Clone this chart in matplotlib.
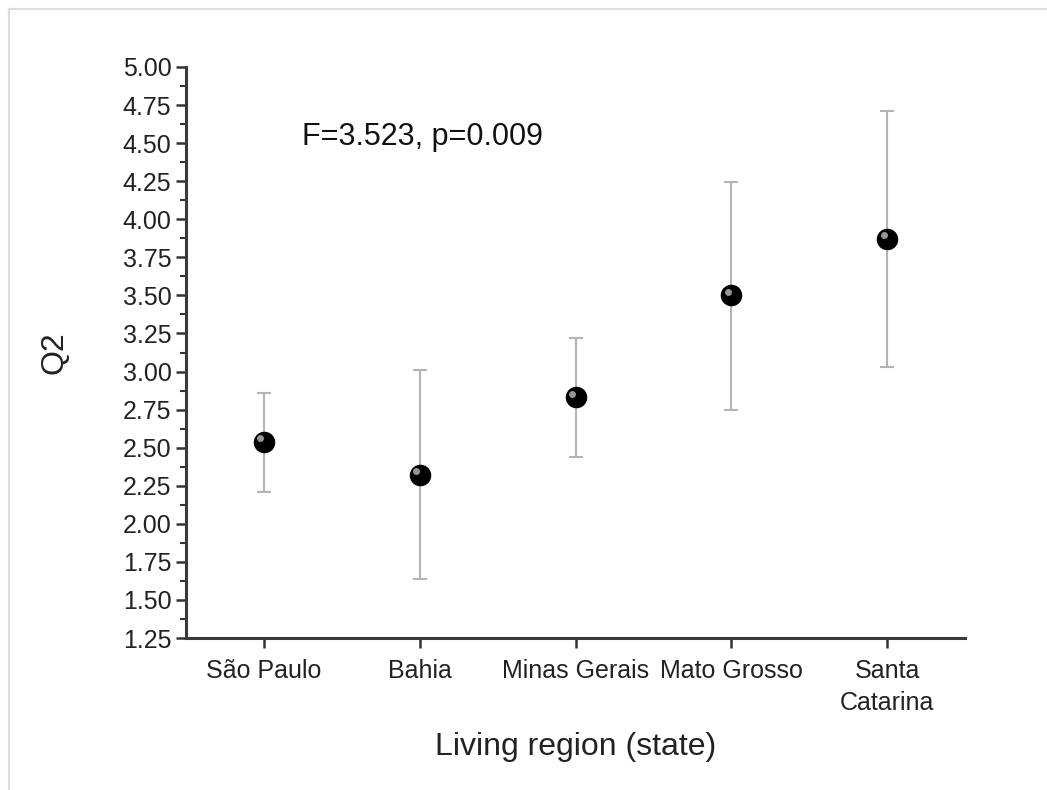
import matplotlib
matplotlib.use("Agg")
import matplotlib.pyplot as plt
from matplotlib.ticker import MultipleLocator, FormatStrFormatter
from matplotlib.lines import Line2D

plt.rcParams['font.family'] = ['Liberation Sans', 'DejaVu Sans']

# data
regions = ["São Paulo", "Bahia", "Minas Gerais", "Mato Grosso", "Santa\nCatarina"]
means = [2.54, 2.32, 2.83, 3.50, 3.87]
upper = [2.86, 3.01, 3.22, 4.245, 4.71]
lower = [2.21, 1.64, 2.44, 2.75, 3.03]

err_lo = [m - l for m, l in zip(means, lower)]
err_hi = [u - m for m, u in zip(means, upper)]
xs = list(range(len(regions)))

fig = plt.figure(figsize=(10.47, 7.9), dpi=100)
ax = fig.add_axes([186 / 1047, 1 - 638 / 790, (965 - 186) / 1047, (638 - 67) / 790])

# light grey frame round the figure
fig.add_artist(Line2D([9 / 1047, 9 / 1047], [0, 1 - 9 / 790], color='#dddddd', lw=1.5, transform=fig.transFigure))
fig.add_artist(Line2D([9 / 1047, 1], [1 - 9 / 790, 1 - 9 / 790], color='#dddddd', lw=1.5, transform=fig.transFigure))

ax.errorbar(xs, means, yerr=[err_lo, err_hi], fmt='none', ecolor='#b4b4b4',
            elinewidth=1.5, capsize=5, capthick=1.5, zorder=2)
# ball-like markers: black disc plus a small highlight
ax.plot(xs, means, 'o', ms=14.5, color='black', mec='black', zorder=3)
ax.plot([x - 0.022 for x in xs], [m + 0.025 for m in means], 'o', ms=5,
        color='#c8c8c8', mec='none', alpha=0.75, zorder=4)

ax.set_xlim(-0.5, 4.5)
ax.set_ylim(1.25, 5.0)
ax.set_xticks(xs)
ax.set_xticklabels(regions, linespacing=1.45)
ax.yaxis.set_major_locator(MultipleLocator(0.25))
ax.yaxis.set_minor_locator(MultipleLocator(0.125))
ax.yaxis.set_major_formatter(FormatStrFormatter('%.2f'))

for side in ['top', 'right']:
    ax.spines[side].set_visible(False)
for side in ['left', 'bottom']:
    ax.spines[side].set_linewidth(2.2)
    ax.spines[side].set_color('#3a3a3a')

ax.tick_params(axis='both', which='major', direction='out', length=7, width=1.8,
               color='#333333', labelsize=18, labelcolor='#222222')
ax.tick_params(axis='y', which='minor', direction='out', length=4, width=1.5, color='#333333')
ax.tick_params(axis='x', pad=8)

ax.set_xlabel('Living region (state)', fontsize=23, labelpad=12, color='#222222')
ax.set_ylabel('Q2', fontsize=23, labelpad=38, color='#222222')

ax.text(0.245, 4.54, 'F=3.523, p=0.009', fontsize=22, va='center', ha='left', color='#111111')

fig.savefig('out.png', dpi=100)
